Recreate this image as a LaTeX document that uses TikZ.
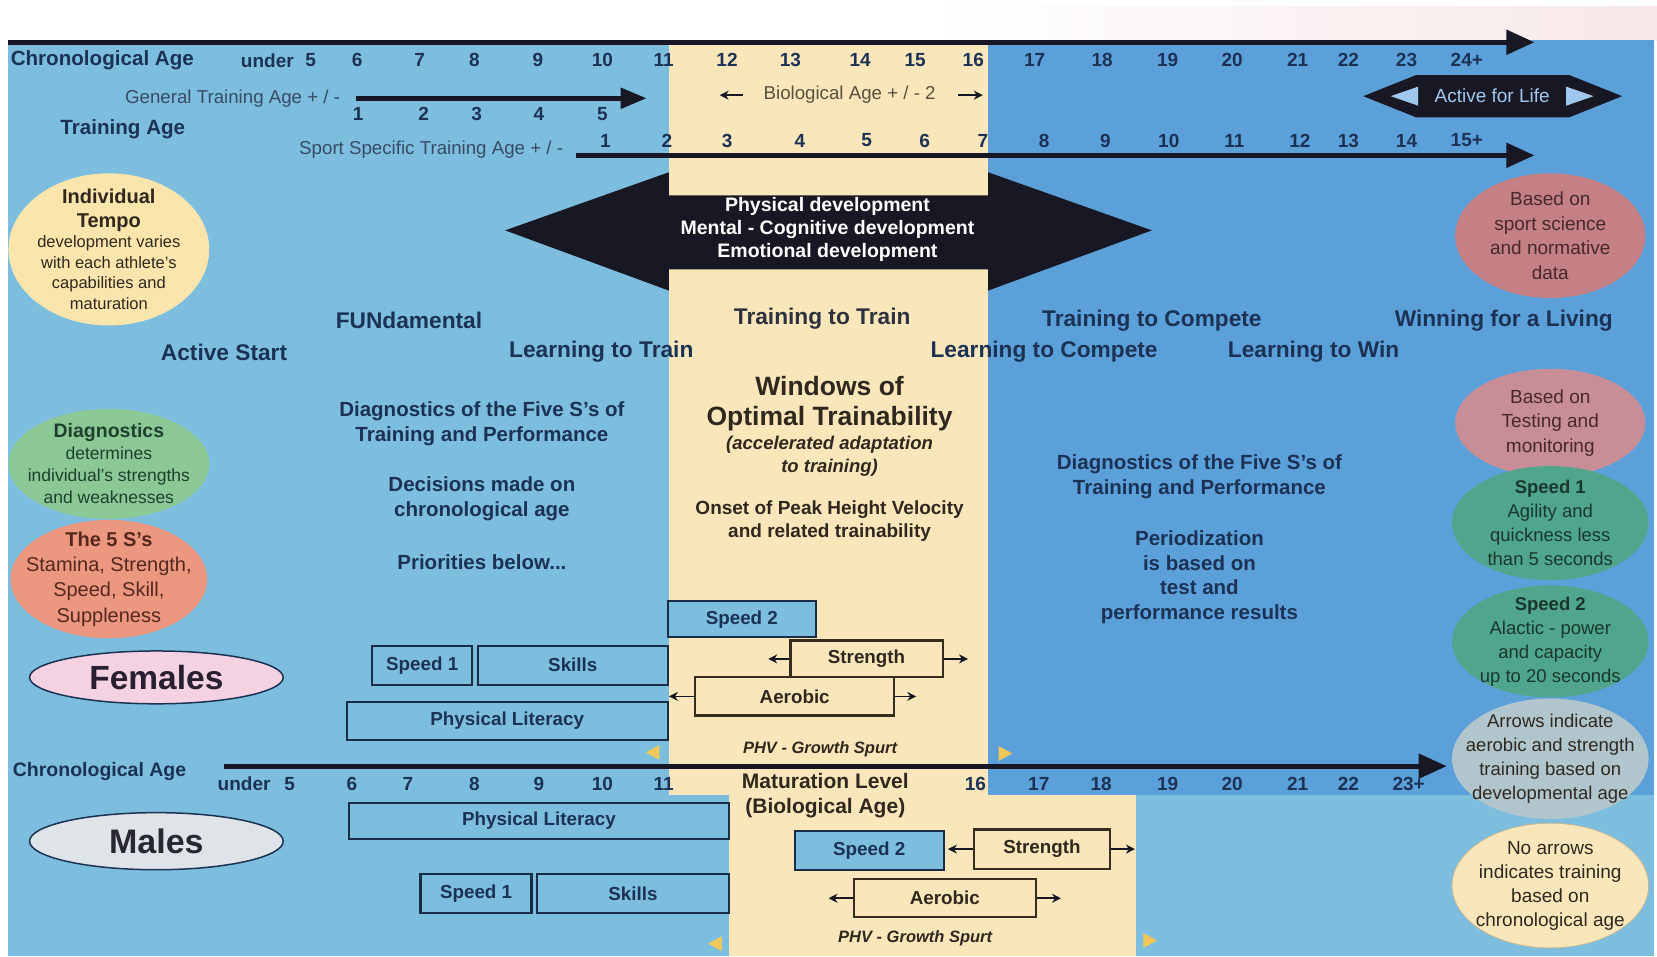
\documentclass[tikz,border=0pt]{standalone}
\usepackage{fontspec}
\setmainfont{Liberation Sans}
\usetikzlibrary{shapes.geometric,arrows.meta}
\definecolor{lblue}{RGB}{125,190,222}
\definecolor{dblue}{RGB}{92,160,218}
\definecolor{cream}{RGB}{249,231,187}
\definecolor{navy}{RGB}{28,50,84}
\definecolor{ink}{RGB}{24,24,36}
\definecolor{brownink}{RGB}{48,40,30}
\definecolor{boxline}{RGB}{25,45,70}
\definecolor{yboxline}{RGB}{55,45,30}
\definecolor{labgray}{RGB}{55,75,100}
\definecolor{biogray}{RGB}{90,80,60}
\definecolor{tempo}{RGB}{250,229,172}
\definecolor{diagg}{RGB}{140,200,150}
\definecolor{diagink}{RGB}{30,65,45}
\definecolor{salmon}{RGB}{236,152,128}
\definecolor{salink}{RGB}{85,40,30}
\definecolor{femp}{RGB}{244,210,225}
\definecolor{malg}{RGB}{222,228,232}
\definecolor{rose1}{RGB}{196,128,132}
\definecolor{rose2}{RGB}{200,142,152}
\definecolor{roseink}{RGB}{70,40,45}
\definecolor{tealc}{RGB}{80,166,140}
\definecolor{tealink}{RGB}{25,55,45}
\definecolor{grayblue}{RGB}{176,198,204}
\definecolor{gold}{RGB}{240,200,90}
\definecolor{palebl}{RGB}{160,200,238}
\definecolor{pinkwash}{RGB}{248,232,232}
\newcommand\fs[2]{\fontsize{#1}{#2}\selectfont}
\tikzset{
  sz/.style 2 args={minimum width=#1*1.0568pt, minimum height=#2*1.0568pt},
  num/.style={font=\bfseries\fs{19}{19}, text=navy},
  stage/.style={font=\bfseries\fs{22.7}{22.7}, text=navy},
  lab/.style={font=\fs{18.7}{18.7}, text=labgray},
  mid/.style={font=\bfseries\fs{20.5}{24.5}, text=navy},
  ymid/.style={font=\bfseries\fs{19}{23}, text=brownink},
  bbox/.style={rectangle, draw=boxline, line width=2.2pt, fill=lblue, font=\bfseries\fs{18.8}{18.8}, text=navy},
  ybox/.style={rectangle, draw=yboxline, line width=2.2pt, fill=cream, font=\bfseries\fs{18.8}{18.8}, text=brownink},
  arr/.style={draw=ink, line width=1.8pt, -{Stealth[length=9pt,width=9pt]}},
  axisline/.style={draw=ink, line width=5pt, -{Triangle[length=28pt,width=24pt]}},
  ell/.style={ellipse, inner sep=0pt},
  phv/.style={font=\bfseries\itshape\fs{16.5}{16.5}, text=brownink},
  every node/.style={inner sep=0pt, align=center},
}
\begin{document}
\begin{tikzpicture}[x=1.0568pt,y=-1.0568pt]
\useasboundingbox (0,0) rectangle (1568,905);
% backgrounds
\fill[white] (0,0) rectangle (1568,905);
\shade[left color=white, right color=pinkwash] (880,6) rectangle (1568,38);
\fill[lblue] (8,38) rectangle (1565,905);
\fill[dblue] (935,38) rectangle (1565,752);
\fill[cream] (633,38) rectangle (935,752);
\fill[cream] (690,752) rectangle (1075,905);

% big development arrow
\fill[ink] (478,218) -- (633,163) -- (633,185) -- (935,185) -- (935,163) -- (1090,218)
  -- (935,275) -- (935,255) -- (633,255) -- (633,275) -- cycle;
\node[font=\bfseries\fs{19.5}{23}, text=white] (dev) at (783,217)
  {Physical development\\Mental - Cognitive development\\Emotional development};

% axes
\coordinate (ax1s) at (8,40); \coordinate (ax1e) at (1452,40);
\draw[axisline] (ax1s) -- (ax1e);
\coordinate (ax2s) at (337,93); \coordinate (ax2e) at (612,93);
\draw[draw=ink, line width=5pt, -{Triangle[length=26pt,width=20pt]}] (ax2s) -- (ax2e);
\coordinate (ax3s) at (545,147); \coordinate (ax3e) at (1452,147);
\draw[axisline] (ax3s) -- (ax3e);
\coordinate (ax4s) at (212,725); \coordinate (ax4e) at (1369,725);
\draw[axisline] (ax4s) -- (ax4e);

% top row
\node[font=\bfseries\fs{20.6}{20.6}, text=navy, anchor=west] (cal1) at (10,57) {Chronological Age};
\node[num] (u1) at (253,57) {under};
\node[num] (u1n) at (294,57) {5};
\foreach \x/\l [count=\i] in {338/6,397/7,449/8,509/9,570/10,628/11,688/12,748/13,814/14,866/15,921/16,979/17,1043/18,1105/19,1166/20,1228/21,1276/22,1331/23,1388/24+}
  \node[num] (ta\i) at (\x,57) {\l};

% general training age
\node[lab, anchor=east] (gta) at (322,93) {General Training Age + / -};
\foreach \x/\l [count=\i] in {339/1,401/2,451/3,510/4,570/5}
  \node[num] (ga\i) at (\x,108) {\l};
\node[font=\bfseries\fs{20.6}{20.6}, text=navy, anchor=west] (tage) at (57,122) {Training Age};

% biological age
\node[lab, text=biogray] (bio) at (804,90) {Biological Age + / - 2};
\coordinate (bioLs) at (703,90); \coordinate (bioLe) at (681,90);
\coordinate (bioRs) at (907,90); \coordinate (bioRe) at (930,90);
\draw[arr, line width=1.5pt] (bioLs) -- (bioLe);
\draw[arr, line width=1.5pt] (bioRs) -- (bioRe);

% active for life
\fill[ink] (1290,91) -- (1340,71) -- (1485,71) -- (1535,91) -- (1485,111) -- (1340,111) -- cycle;
\fill[palebl] (1316,91) -- (1342,82) -- (1342,100) -- cycle;
\fill[palebl] (1508,91) -- (1482,82) -- (1482,100) -- cycle;
\node[font=\fs{19}{19}, text=palebl] (afl) at (1412,91) {Active for Life};

% sport specific training age
\node[lab, anchor=east] (ssta) at (533,142) {Sport Specific Training Age + / -};
\foreach \x/\l [count=\i] in {573/1,631/2,688/3,757/4,820/5,875/6,930/7,988/8,1046/9,1106/10,1168/11,1230/12,1276/13,1331/14,1388/15+}
  \node[num] (sa\i) at (\x,133) {\l};

% stage labels
\node[stage] (s1) at (387,303) {FUNdamental};
\node[stage] (s2) at (212,333) {Active Start};
\node[stage, text={rgb,255:red,45;green,50;blue,62}] (s3) at (778,302) {Training to Train};
\node[stage] (s4) at (569,333) {Learning to Train};
\node[stage] (s5) at (1090,303) {Training to Compete};
\node[stage] (s6) at (988,333) {Learning to Compete};
\node[stage] (s7) at (1243,333) {Learning to Win};
\node[stage] (s8) at (1423,303) {Winning for a Living};

% left ellipses
\node[ell, fill=tempo, sz={190}{144}] (tempo) at (103,236) {};
\node[text=brownink, font=\fs{16.5}{20.6}] (tempot) at (tempo)
  {{\bfseries\fs{20}{20.6}Individual}\\[3pt]{\bfseries\fs{20}{20.6}Tempo}\\development varies\\with each athlete's\\capabilities and\\maturation};
\node[ell, fill=diagg, sz={190}{104}] (diag) at (103,439) {};
\node[text=diagink, font=\fs{17.5}{22}] (diagt) at (diag)
  {{\bfseries\fs{19.5}{22}Diagnostics}\\determines\\individual's strengths\\and weaknesses};
\node[ell, fill=salmon, sz={186}{112}] (fives) at (103,548) {};
\node[text=salink, font=\fs{20}{25.3}] (fivest) at (fives)
  {{\bfseries The 5 S's}\\Stamina, Strength,\\Speed, Skill,\\Suppleness};
\node[ell, fill=femp, draw=navy, line width=1.5pt, sz={240}{50}] (fem) at (148,641) {};
\node[font=\bfseries\fs{33.5}{33.5}, text={rgb,255:red,40;green,32;blue,48}] (femt) at (fem) {Females};
\node[ell, fill=malg, draw=navy, line width=1.5pt, sz={240}{54}] (mal) at (148,796) {};
\node[font=\bfseries\fs{34}{34}, text={rgb,255:red,40;green,40;blue,48}] (malt) at (mal) {Males};

% right ellipses
\node[ell, fill=rose1, sz={180}{118}] (sci) at (1467,223) {};
\node[text=roseink, font=\fs{19}{24.5}] (scit) at (sci) {Based on\\sport science\\and normative\\data};
\node[ell, fill=rose2, sz={180}{102}] (test) at (1467,400) {};
\node[text=roseink, font=\fs{19}{24.5}] (testt) at (test) {Based on\\Testing and\\monitoring};
\node[ell, fill=tealc, sz={186}{108}] (sp1e) at (1467,495) {};
\node[text=tealink, font=\fs{18.5}{24}] (sp1t) at (sp1e)
  {{\bfseries Speed 1}\\Agility and\\quickness less\\than 5 seconds};
\node[ell, fill=tealc, sz={186}{106}] (sp2e) at (1467,607) {};
\node[text=tealink, font=\fs{18.5}{24}] (sp2t) at (sp2e)
  {{\bfseries Speed 2}\\Alactic - power\\and capacity\\up to 20 seconds};
\node[ell, fill=grayblue, sz={186}{114},
  path picture={\fill[cream] (1360,752) rectangle (1580,800);}] (arre) at (1467,718) {};
\node[text=brownink, font=\fs{18.5}{24}] (arret) at (arre)
  {Arrows indicate\\aerobic and strength\\training based on\\developmental age};
\node[ell, fill=cream, draw={rgb,255:red,200;green,185;blue,150}, line width=0.8pt, sz={186}{118}] (noarr) at (1467,838) {};
\node[text=brownink, font=\fs{19}{24}] (noarrt) at (noarr)
  {No arrows\\indicates training\\based on\\chronological age};

% middle texts
\node[mid] (ld1) at (456,401) {Diagnostics of the Five S's of\\Training and Performance};
\node[mid] (ld2) at (456,472) {Decisions made on\\chronological age};
\node[mid] (ld3) at (456,532) {Priorities below...};
\node[font=\bfseries\fs{26.5}{30.5}, text=brownink] (win) at (785,382) {Windows of\\Optimal Trainability};
\node[font=\bfseries\itshape\fs{18.5}{23}, text=brownink] (acc) at (785,432) {(accelerated adaptation\\to training)};
\node[ymid] (phvt) at (785,493) {Onset of Peak Height Velocity\\and related trainability};
\node[mid] (rd1) at (1135,451) {Diagnostics of the Five S's of\\Training and Performance};
\node[mid] (rd2) at (1135,546) {Periodization\\is based on\\test and\\performance results};

% female boxes
\node[bbox, sz={140}{34}] (fsp2) at (702,586) {Speed 2};
\node[bbox, sz={95}{37}] (fsp1) at (399.5,629.5) {Speed 1};
\node[bbox, sz={180}{37}] (fsk) at (542,629.5) {Skills};
\node[ybox, sz={144}{35}] (fstr) at (820,623.5) {Strength};
\node[ybox, sz={188}{36}] (faer) at (752,659) {Aerobic};
\node[bbox, sz={304}{36}] (fpl) at (480,682) {Physical Literacy};
\coordinate (fstrL) at (727,623.5); \coordinate (fstrR) at (916,623.5);
\coordinate (faerL) at (633,659); \coordinate (faerR) at (867,659);
\draw[arr] (fstr.west) -- (fstrL);
\draw[arr] (fstr.east) -- (fstrR);
\draw[arr] (faer.west) -- (faerL);
\draw[arr] (faer.east) -- (faerR);
\node[phv] (fphv) at (776,709) {PHV - Growth Spurt};
\fill[gold] (611,712) -- (624,705) -- (624,719) -- cycle;
\fill[gold] (958,713) -- (945,706) -- (945,720) -- cycle;

% middle chronological axis labels
\node[font=\bfseries\fs{19.5}{19.5}, text=navy, anchor=west] (cal2) at (12,730) {Chronological Age};
\node[num] (u2) at (231,742) {under};
\node[num] (u2n) at (274,742) {5};
\foreach \x/\l [count=\i] in {333/6,386/7,449/8,510/9,570/10,628/11,923/16,983/17,1042/18,1105/19,1166/20,1228/21,1276/22,1333/23+}
  \node[num] (mc\i) at (\x,742) {\l};
\node[font=\bfseries\fs{21}{24.5}, text=brownink] (mat) at (781,753) {Maturation Level\\(Biological Age)};

% male boxes
\node[bbox, sz={360}{34}] (mpl) at (510,777) {Physical Literacy};
\node[bbox, sz={141}{37}] (msp2) at (822.5,804.5) {Speed 2};
\node[ybox, sz={128}{37}] (mstr) at (986,803.5) {Strength};
\node[bbox, sz={105}{37}] (msp1) at (450.5,845.5) {Speed 1};
\node[bbox, sz={182}{37}] (msk) at (599,845.5) {Skills};
\node[ybox, sz={172}{36}] (maer) at (894,850) {Aerobic};
\coordinate (mstrL) at (897,803.5); \coordinate (mstrR) at (1074,803.5);
\coordinate (maerL) at (784,850); \coordinate (maerR) at (1004,850);
\draw[arr] (mstr.west) -- (mstrL);
\draw[arr] (mstr.east) -- (mstrR);
\draw[arr] (maer.west) -- (maerL);
\draw[arr] (maer.east) -- (maerR);
\node[phv] (mphv) at (866,888) {PHV - Growth Spurt};
\fill[gold] (670,893) -- (683,886) -- (683,900) -- cycle;
\fill[gold] (1095,890) -- (1082,883) -- (1082,897) -- cycle;
\end{tikzpicture}
\end{document}
